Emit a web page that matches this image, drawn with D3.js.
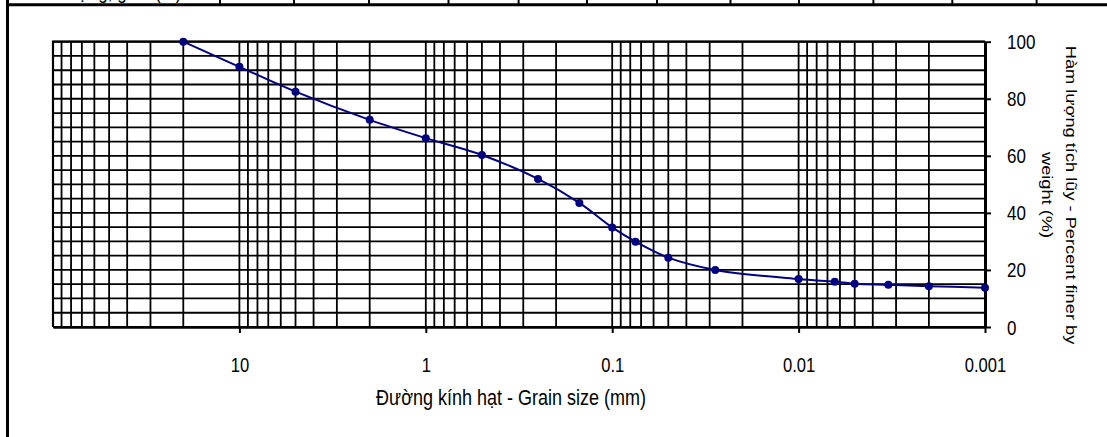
<!DOCTYPE html>
<html>
<head>
<meta charset="utf-8">
<script src="https://cdn.jsdelivr.net/npm/d3@7"></script>
<style>
  html, body { margin: 0; padding: 0; background: #fff; }
  svg { display: block; font-family: "Liberation Sans", Arial, sans-serif; }
</style>
</head>
<body>
<svg id="chart" width="1107" height="437"></svg>
<script>
// Grain size distribution (sieve + hydrometer), cumulative percent finer
const grainSize    = [20, 10, 5, 2, 1, 0.5, 0.25, 0.15, 0.1, 0.075, 0.05, 0.028, 0.01, 0.0064, 0.005, 0.0033, 0.002, 0.001];
const percentFiner = [100, 91.2, 82.5, 72.6, 66.2, 60.3, 51.9, 43.5, 34.9, 29.9, 24.3, 20.0, 16.8, 15.9, 15.2, 14.8, 14.3, 13.8];

const xTickValues = [10, 1, 0.1, 0.01, 0.001];
const xTickLabels = ["10", "1", "0.1", "0.01", "0.001"];
const yTickValues = [0, 20, 40, 60, 80, 100];

const xTitle = "Đường kính hạt - Grain size (mm)";
const yTitleLines = ["Hàm lượng tích lũy - Percent finer by", "weight (%)"];
const headerText = "Hàm lượng, gam (%)";

// layout
const plot = { left: 53, right: 985, top: 41.7, bottom: 327 };
const textStretch = 1.2;                      // vertical stretch of all lettering
const headerEdges = [220, 294, 369, 448.5, 518.6, 587, 657, 730.5, 799, 873.4, 952.3, 1036.6];

const svg = d3.select("#chart");

const x = d3.scaleLog().domain([100, 0.001]).range([plot.left, plot.right]);
const y = d3.scaleLinear().domain([0, 100]).range([plot.bottom, plot.top]);

// outer frame and header row of the sheet
svg.append("line").attr("x1", 7.5).attr("x2", 7.5).attr("y1", 0).attr("y2", 437)
  .attr("stroke", "#000").attr("stroke-width", 3);
svg.append("line").attr("x1", 6).attr("x2", 1107).attr("y1", 4.7).attr("y2", 4.7)
  .attr("stroke", "#000").attr("stroke-width", 3);
svg.selectAll("line.hdr").data(headerEdges).join("line").attr("class", "hdr")
  .attr("x1", d => d).attr("x2", d => d).attr("y1", 0).attr("y2", 4)
  .attr("stroke", "#000").attr("stroke-width", 2);
svg.append("text").attr("transform", `translate(22,-1.5) scale(1,${textStretch})`)
  .attr("font-size", 17).text(headerText);

// grid: every 1..9 x 10^k along the log axis, every 5 % along the y axis
const xGrid = [];
for (let e = -3; e <= 1; e++) for (let n = 1; n <= 9; n++) xGrid.push(n * Math.pow(10, e));
xGrid.push(100);
const yGrid = d3.range(0, 101, 5);

const grid = svg.append("g");
grid.selectAll("line.v").data(xGrid).join("line").attr("class", "v")
  .attr("x1", d => x(d)).attr("x2", d => x(d))
  .attr("y1", plot.top).attr("y2", plot.bottom)
  .attr("stroke", "#000").attr("stroke-width", 1.8);
grid.selectAll("line.h").data(yGrid).join("line").attr("class", "h")
  .attr("x1", plot.left).attr("x2", plot.right)
  .attr("y1", d => y(d)).attr("y2", d => y(d))
  .attr("stroke", "#000").attr("stroke-width", 1.8);

// axes
const xAxis = d3.axisBottom(x).tickValues(xTickValues)
  .tickFormat((d, i) => xTickLabels[i]).tickSize(6).tickSizeOuter(0);
const gx = svg.append("g").attr("transform", `translate(0,${plot.bottom})`).call(xAxis);
gx.select(".domain").attr("stroke-width", 2.6);
gx.selectAll(".tick line").attr("stroke-width", 2);
gx.selectAll(".tick text")
  .attr("font-family", "Liberation Sans, Arial, sans-serif")
  .attr("font-size", 16.6).attr("fill", "#000")
  .attr("y", 45 / textStretch).attr("dy", 0)
  .attr("transform", `scale(1,${textStretch})`);

const yAxis = d3.axisRight(y).tickValues(yTickValues).tickSize(6).tickSizeOuter(0);
const gy = svg.append("g").attr("transform", `translate(${plot.right},0)`).call(yAxis);
gy.select(".domain").attr("stroke-width", 3);
gy.selectAll(".tick line").attr("stroke-width", 2);
gy.selectAll(".tick text")
  .attr("font-family", "Liberation Sans, Arial, sans-serif")
  .attr("font-size", 17).attr("fill", "#000")
  .attr("x", 22).attr("dy", 0).attr("y", 7 / textStretch)
  .attr("text-anchor", "start")
  .attr("transform", `scale(1,${textStretch})`);

// plot border (top and left)
svg.append("path")
  .attr("d", `M${plot.left},${plot.bottom}V${plot.top}H${plot.right}`)
  .attr("fill", "none").attr("stroke", "#000").attr("stroke-width", 2.2);

// axis titles
svg.append("text")
  .attr("transform", `translate(511,405) scale(1,${textStretch})`)
  .attr("text-anchor", "middle").attr("font-size", 18).text(xTitle);

const yTitleBase = [1066, 1042];
yTitleLines.forEach((t, i) => {
  svg.append("text")
    .attr("transform", `translate(${yTitleBase[i]},195) scale(1,${textStretch}) rotate(90)`)
    .attr("text-anchor", "middle").attr("font-size", 15.2).text(t);
});

// data series
const pts = grainSize.map((g, i) => [g, percentFiner[i]]);
const line = d3.line().x(d => x(d[0])).y(d => y(d[1])).curve(d3.curveCatmullRom.alpha(0.5));
svg.append("path").datum(pts).attr("d", line)
  .attr("fill", "none").attr("stroke", "#000080").attr("stroke-width", 2);
svg.selectAll("circle.pt").data(pts).join("circle").attr("class", "pt")
  .attr("cx", d => x(d[0])).attr("cy", d => y(d[1])).attr("r", 4)
  .attr("fill", "#000080");
</script>
</body>
</html>
